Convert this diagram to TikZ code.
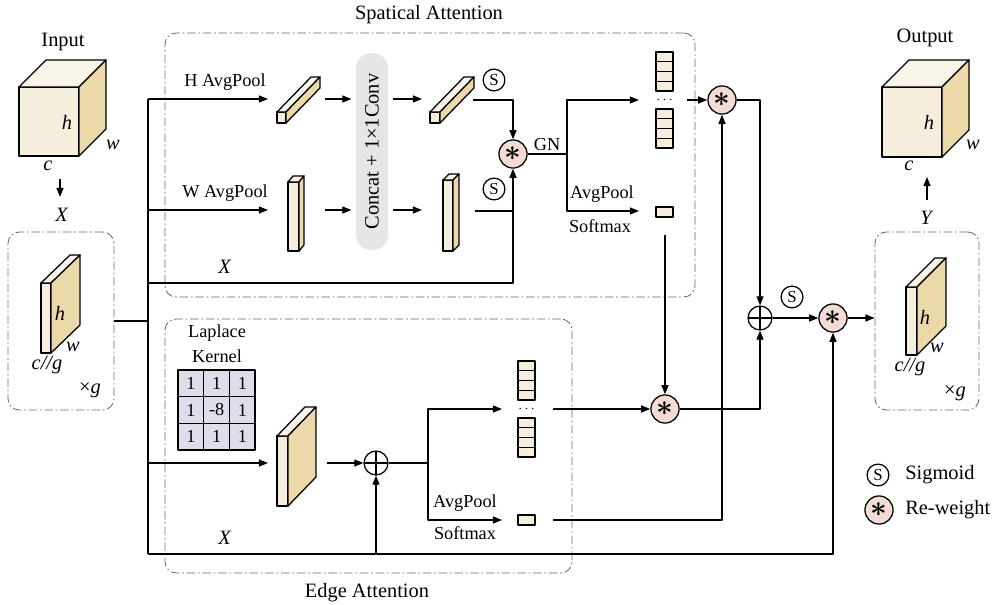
\documentclass[tikz,border=0pt]{standalone}
\usepackage{fontspec}
\setmainfont{Liberation Serif}
\usetikzlibrary{arrows.meta,fit}
\definecolor{cfront}{RGB}{246,238,220}
\definecolor{ctop}{RGB}{250,245,233}
\definecolor{cside}{RGB}{236,217,170}
\definecolor{rwpink}{RGB}{243,220,214}
\definecolor{kgray}{RGB}{222,222,234}
\definecolor{pillgray}{RGB}{230,230,230}
\definecolor{boxgray}{RGB}{105,105,105}

\newcommand{\cuboid}[6]{%
  \filldraw[fill=cfront] (#1,#2) rectangle (#3,#4);
  \filldraw[fill=ctop] (#1,#2) -- ++(#5,#6) -- ({#3+#5},{#2+#6}) -- (#3,#2) -- cycle;
  \filldraw[fill=cside] (#3,#2) -- ({#3+#5},{#2+#6}) -- ({#3+#5},{#4+#6}) -- (#3,#4) -- cycle;
}
\newcommand{\cellstack}[4]{%
  \foreach \i in {0,...,3} {
    \filldraw[fill=cfront] (#1,{#2+\i*9.75}) rectangle ++(17,9.75);
    \filldraw[fill=cfront] (#1,{#3+\i*9.75}) rectangle ++(17,9.75);
  }
  \node[font=\normalsize,inner sep=0pt] (#4) at ({#1+8.5},{(#2+#3+39)/2}) {$\cdots$};
}

\begin{document}
\begin{tikzpicture}[x=0.025cm,y=-0.025cm,line width=0.9pt,line join=round,
  arr/.style={-{Triangle[length=6.5pt,width=5pt]}},
  lbl/.style={font=\fontsize{13}{15}\selectfont},
  ttl/.style={font=\fontsize{14.5}{17}\selectfont},
  gbox/.style={draw=boxgray,line width=0.6pt,dash pattern=on 6pt off 2pt on 1.2pt off 2pt,rounded corners=8pt,inner sep=0pt},
  sig/.style={circle,draw,fill=white,minimum size=15.5pt,inner sep=0pt,font=\fontsize{12}{12}\selectfont},
  rw/.style={circle,draw,fill=rwpink,minimum size=20pt,inner sep=0pt,font=\fontsize{20.74}{20}\selectfont\boldmath},
  sumc/.style={circle,draw,minimum size=17pt,inner sep=0pt,path picture={\draw (path picture bounding box.north) -- (path picture bounding box.south) (path picture bounding box.west) -- (path picture bounding box.east);}},
  pill/.style={fill=pillgray,rounded corners=11pt,inner sep=0pt}]
\useasboundingbox (0,0) rectangle (995,605);

% input
\node[ttl] (inlab) at (63,42) {Input};
\cuboid{19}{87}{79}{156}{27}{-27}
\node[ttl] at (67,122) {\textit{h}};
\node[ttl] at (113,145) {\textit{w}};
\node[ttl] at (48,166) {\textit{c}};
\coordinate (icb) at (60,179);
\coordinate (ixt) at (60,197);
\draw[arr] (icb) -- (ixt);
\node[ttl] (xlab) at (62,215) {\textit{X}};
\node[gbox,fit={(8,232) (114,410)}] (gin) {};
\cuboid{41}{283}{51}{353}{29}{-28}
\node[ttl] at (60,313) {\textit{h}};
\node[ttl] at (73,347) {\textit{w}};
\node[ttl] at (47,365) {\textit{c//g}};
\node[ttl] at (90,390) {×\textit{g}};

\coordinate (tr) at (148,99);
\coordinate (bt) at (148,554);
\draw (gin.east) -- (gin.east -| tr);
\draw (tr) -- (bt);

% spatial attention
\node[gbox,fit={(165,33) (695,297)}] (sab) {};
\node[ttl] at (429,15) {Spatical Attention};
\coordinate (hin) at (268,99);
\draw[arr] (tr) -- (hin);
\node[lbl] at (225,82) {H AvgPool};
\cuboid{277}{112}{286}{123}{34}{-35}
\node[pill,fit={(356,53) (388,250)}] (cc) {};
\node[ttl,rotate=90] at (cc) {Concat + 1×1Conv};
\coordinate (h1) at (325,99);
\coordinate (h2) at (422,99);
\draw[arr,shorten >=2.8pt] (h1) -- (cc.west |- h1);
\draw[arr,shorten <=2.8pt] (cc.east |- h2) -- (h2);
\cuboid{430}{112}{440}{123}{34}{-35}
\node[sig] (s1) at (494,80) {S};
\node[rw] (rw1) at (513,154) {$\ast$};
\coordinate (h3) at (473,100);
\draw[arr] (h3) -| (rw1.north);

\coordinate (win) at (268,210);
\draw[arr] (tr |- win) -- (win);
\node[lbl] at (225,193) {W AvgPool};
\cuboid{288}{182}{299}{251}{5}{-6}
\coordinate (w1) at (325,210);
\coordinate (w2) at (422,210);
\draw[arr,shorten >=2.8pt] (w1) -- (cc.west |- w1);
\draw[arr,shorten <=2.8pt] (cc.east |- w2) -- (w2);
\cuboid{443}{180}{453}{251}{6}{-6}
\node[sig] (s2) at (494,189) {S};
\coordinate (w3) at (475,211);
\draw[arr] (w3) -| (rw1.south);
\coordinate (xs) at (148,283);
\draw (xs) -| (w3 -| rw1);
\node[ttl] at (225,267) {\textit{X}};

\coordinate (sp1) at (567,154);
\draw (rw1.east) -- (sp1);
\node[lbl] at (547,145) {GN};
\coordinate (st1) at (639,100);
\coordinate (sm1) at (639,211);
\draw[arr] (sp1) |- (st1);
\draw[arr] (sp1) |- (sm1);
\node[lbl] at (602,194) {AvgPool};
\node[lbl] at (600,226) {Softmax};
\cellstack{656}{52}{109}{d1}
\node[draw,fill=cfront,fit={(656,207) (673,217)},inner sep=0pt] (p1) {};
\node[rw] (rw2) at (722,100) {$\ast$};
\coordinate (d1o) at (687,100);
\draw[arr] (d1o) -- (rw2.west);

% edge attention
\node[gbox,fit={(165,319) (572,573)}] (eab) {};
\node[ttl] at (367,593) {Edge Attention};
\node[lbl] at (217,333) {Laplace};
\node[lbl] at (217,356) {Kernel};
\filldraw[fill=kgray] (178,370) rectangle (255,450);
\foreach \k in {1,2} {
  \draw ({178+\k*25.667},370) -- ++(0,80);
  \draw (178,{370+\k*26.667}) -- ++(77,0);
}
\foreach \r/\c/\v in {0/0/1,0/1/1,0/2/1,1/0/1,1/1/-8,1/2/1,2/0/1,2/1/1,2/2/1}
  \node[lbl] at ({191+\c*25.667},{383.3+\r*26.667}) {\v};
\coordinate (ein) at (268,463);
\draw[arr] (tr |- ein) -- (ein);
\cuboid{277}{436}{288}{506}{28}{-29}
\node[sumc] (ad1) at (376,463) {};
\coordinate (e1) at (327,463);
\draw[arr] (e1) -- (ad1.west);
\coordinate (sp2) at (428,463);
\draw (ad1.east) -- (sp2);
\coordinate (st2) at (502,409);
\coordinate (sm2) at (502,520);
\draw[arr] (sp2) |- (st2);
\draw[arr] (sp2) |- (sm2);
\node[lbl] at (465,503) {AvgPool};
\node[lbl] at (465,533) {Softmax};
\cellstack{518}{361}{418}{d2}
\node[draw,fill=cfront,fit={(518,515) (535,525)},inner sep=0pt] (p2) {};
\node[ttl] at (225,538) {\textit{X}};

% fusion
\node[rw] (rw3) at (665,409) {$\ast$};
\coordinate (p1o) at (665,235);
\draw[arr] (p1o) -- (rw3.north);
\coordinate (d2o) at (553,409);
\draw[arr] (d2o) -- (rw3.west);
\node[sumc] (ad2) at (760,318) {};
\draw[arr] (rw2.east) -| (ad2.north);
\draw[arr] (rw3.east) -| (ad2.south);
\coordinate (p2o) at (553,520);
\draw[arr] (p2o) -| (rw2.south);
\node[rw] (rw4) at (833,318) {$\ast$};
\node[sig] (s3) at (792,297) {S};
\draw[arr] (ad2.east) -- (rw4.west);
\draw[arr] (bt) -| (rw4.south);
\draw[arr] (bt -| ad1) -- (ad1.south);

% output
\node[gbox,fit={(875,232) (979,410)}] (gout) {};
\draw[arr] (rw4.east) -- (rw4.east -| gout.west);
\cuboid{906}{287}{917}{355}{29}{-29}
\node[ttl] at (925,317) {\textit{h}};
\node[ttl] at (937,348) {\textit{w}};
\node[ttl] at (910,367) {\textit{c//g}};
\node[ttl] at (955,393) {×\textit{g}};
\node[ttl] (ylab) at (927,218) {\textit{Y}};
\coordinate (ylo) at (927,200);
\coordinate (yhi) at (927,177);
\draw[arr] (ylo) -- (yhi);
\node[ttl] (outlab) at (925,38) {Output};
\cuboid{882}{87}{942}{157}{27}{-27}
\node[ttl] at (929,122) {\textit{h}};
\node[ttl] at (973,145) {\textit{w}};
\node[ttl] at (909,166) {\textit{c}};

% legend
\node[sig] (ls) at (878,475) {S};
\node[ttl,anchor=west] at (900,475) {Sigmoid};
\node[rw] (lr) at (879,510) {$\ast$};
\node[ttl,anchor=west] at (900,510) {Re-weight};
\end{tikzpicture}
\end{document}
